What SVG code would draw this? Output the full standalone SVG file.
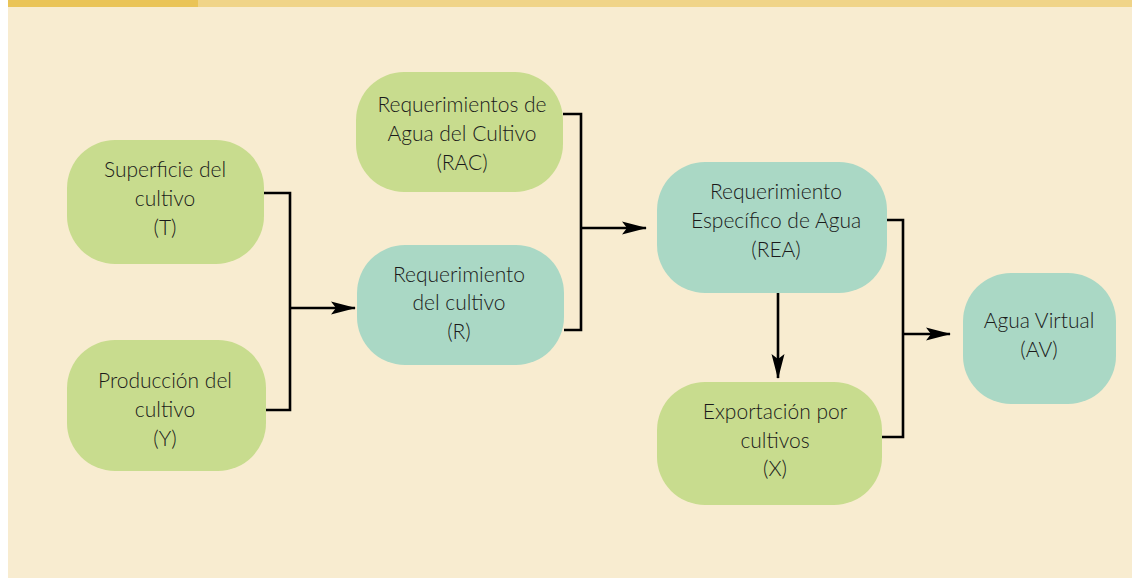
<svg xmlns="http://www.w3.org/2000/svg" width="1132" height="579" viewBox="0 0 1132 579">
<defs>
<style>
.bg{fill:#f8ecd0}
.g{fill:#c8dc8e}
.t{fill:#aad8c5}
.tx{font-family:Lato,"Open Sans","Liberation Sans",sans-serif;font-size:21px;font-weight:300;fill:#1a1a1a;text-anchor:middle}
.c{fill:none;stroke:#000;stroke-width:2.6}
</style>
<marker id="ah" markerUnits="userSpaceOnUse" markerWidth="26" markerHeight="14" viewBox="0 0 26 14" refX="24" refY="7" orient="auto">
<path d="M0,0.5 L25,7 L0,13.5 L5,7 z" fill="#000"/>
</marker>
</defs>
<rect x="8" y="0" width="1124" height="578" class="bg"/>
<rect x="8" y="0" width="190" height="7" fill="#eac457"/>
<rect x="198" y="0" width="934" height="7" fill="#f0d488"/>

<g id="connectors">
<polyline class="c" points="260,193 290,193 290,410 266,410"/>
<line class="c" x1="290" y1="308" x2="355" y2="308" marker-end="url(#ah)"/>
<polyline class="c" points="563,114 581,114 581,330 564,330"/>
<line class="c" x1="581" y1="228" x2="646" y2="228" marker-end="url(#ah)"/>
<polyline class="c" points="887,220 903,220 903,437 882,437"/>
<line class="c" x1="903" y1="334" x2="950" y2="334" marker-end="url(#ah)"/>
<line class="c" x1="778" y1="293" x2="778" y2="378" marker-end="url(#ah)"/>
</g>

<g id="node-T">
<rect x="67" y="140" width="197" height="124" rx="48" class="g"/>
<text class="tx" x="165" y="177">Superficie del</text>
<text class="tx" x="165" y="206">cultivo</text>
<text class="tx" x="165" y="235">(T)</text>
</g>
<g id="node-Y">
<rect x="67" y="340" width="199" height="131" rx="48" class="g"/>
<text class="tx" x="165" y="388">Producción del</text>
<text class="tx" x="165" y="417">cultivo</text>
<text class="tx" x="165" y="446">(Y)</text>
</g>
<g id="node-RAC">
<rect x="356" y="72" width="207" height="120" rx="48" class="g"/>
<text class="tx" x="462" y="112">Requerimientos de</text>
<text class="tx" x="462" y="141">Agua del Cultivo</text>
<text class="tx" x="462" y="170">(RAC)</text>
</g>
<g id="node-R">
<rect x="357" y="245" width="207" height="120" rx="48" class="t"/>
<text class="tx" x="459" y="282">Requerimiento</text>
<text class="tx" x="459" y="310">del cultivo</text>
<text class="tx" x="459" y="339">(R)</text>
</g>
<g id="node-REA">
<rect x="657" y="162" width="230" height="131" rx="48" class="t"/>
<text class="tx" x="776" y="199">Requerimiento</text>
<text class="tx" x="776" y="228">Específico de Agua</text>
<text class="tx" x="776" y="257">(REA)</text>
</g>
<g id="node-X">
<rect x="657" y="382" width="225" height="123" rx="48" class="g"/>
<text class="tx" x="775" y="419">Exportación por</text>
<text class="tx" x="775" y="448">cultivos</text>
<text class="tx" x="775" y="476">(X)</text>
</g>
<g id="node-AV">
<rect x="963" y="273" width="153" height="131" rx="48" class="t"/>
<text class="tx" x="1039" y="328">Agua Virtual</text>
<text class="tx" x="1039" y="357">(AV)</text>
</g>
</svg>
